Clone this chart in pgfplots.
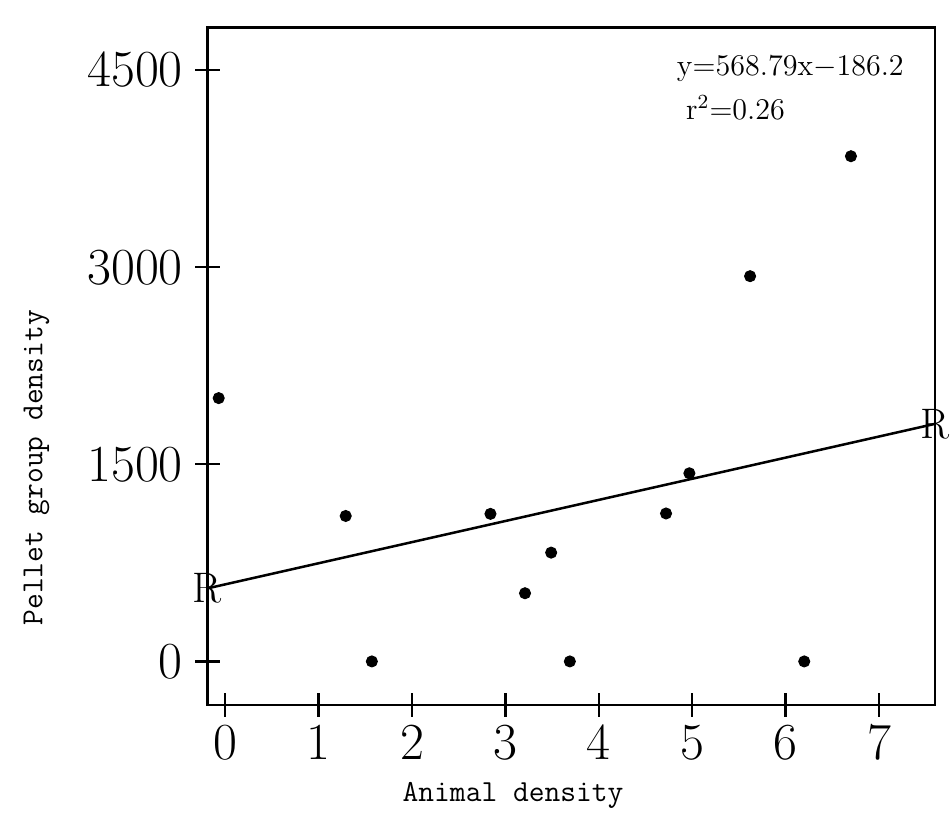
\documentclass[border=0pt]{standalone}
\usepackage{pgfplots}
\pgfplotsset{compat=1.18}
\begin{document}
\begin{tikzpicture}
\begin{axis}[
  scale only axis,
  width=290pt, height=270pt,
  xmin=-0.19, xmax=7.6,
  ymin=-331, ymax=4824,
  xtick={0,1,2,3,4,5,6,7},
  ytick={0,1500,3000,4500},
  scaled y ticks=false,
  yticklabel style={/pgf/number format/1000 sep={}, xshift=-1.5pt},
  tick align=center,
  major tick length=9.6pt,
  xtick pos=bottom, ytick pos=left,
  ticklabel style={font=\fontsize{20.5}{22}\selectfont},
  xlabel={Animal density},
  ylabel={\rule{0pt}{13.6pt}Pellet group density},
  label style={font=\fontsize{12.2}{14}\selectfont\ttfamily},
  xlabel style={at={(axis description cs:0.42,0)}, anchor=base, yshift=-38.6pt},
  ylabel style={at={(axis description cs:-0.205,0.35)}, anchor=south},
  title={\rule{0pt}{4.8pt}},
  title style={at={(axis description cs:0.5,1)}, anchor=south, inner sep=0pt},
  axis line style={line width=0.9pt},
  tick style={line width=0.9pt, black},
  clip=false,
]
\addplot[only marks, mark=*, mark size=2.2pt, black] coordinates {
  (-0.07,2004) (1.29,1107) (2.84,1123) (3.49,828) (3.21,519) (4.97,1432)
  (4.72,1126) (6.70,3845) (5.62,2932) (1.57,0) (3.69,0) (6.20,0)
};
\addplot[black, line width=1pt] coordinates {(-0.19,556) (7.6,1808)};
\addplot[only marks, mark=text, text mark={\fontsize{17}{19}\selectfont R}, black] coordinates {(-0.19,556) (7.6,1808)};
\node[anchor=base west, inner sep=0pt, font=\fontsize{12}{14}\selectfont] at (axis cs:4.83,4463) {$\mathrm{y{=}568.79x{-}186.2}$};
\node[anchor=base west, inner sep=0pt, font=\fontsize{12}{14}\selectfont] at (axis cs:4.93,4128) {$\mathrm{r^2{=}0.26}$};
\end{axis}
\end{tikzpicture}
\end{document}
